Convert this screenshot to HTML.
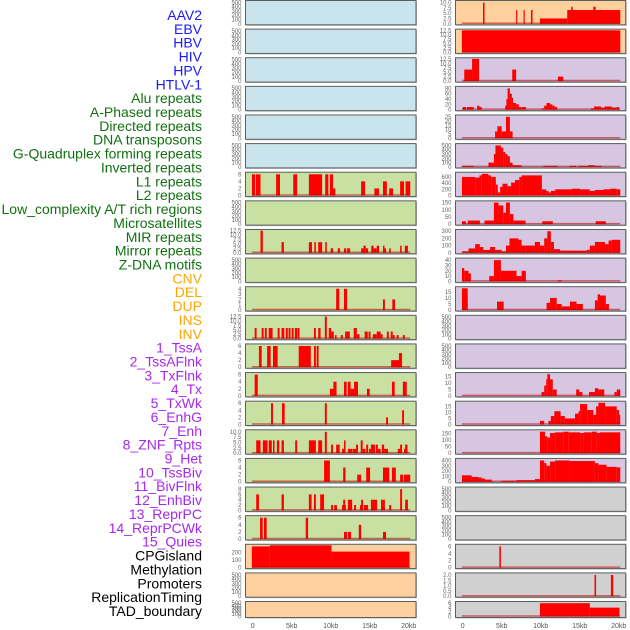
<!DOCTYPE html>
<html><head><meta charset="utf-8">
<style>
html,body{margin:0;padding:0;background:#fff;width:630px;height:630px;overflow:hidden}
svg{display:block}
text{font-family:"Liberation Sans",sans-serif}
</style></head>
<body>
<svg id="c" width="630" height="630" viewBox="0 0 630 630"></svg>
<script>
// ---- labels ----
const labelNames = ["AAV2","EBV","HBV","HIV","HPV","HTLV-1","Alu repeats","A-Phased repeats","Directed repeats","DNA transposons","G-Quadruplex forming repeats","Inverted repeats","L1 repeats","L2 repeats","Low_complexity A/T rich regions","Microsatellites","MIR repeats","Mirror repeats","Z-DNA motifs","CNV","DEL","DUP","INS","INV","1_TssA","2_TssAFlnk","3_TxFlnk","4_Tx","5_TxWk","6_EnhG","7_Enh","8_ZNF_Rpts","9_Het","10_TssBiv","11_BivFlnk","12_EnhBiv","13_ReprPC","14_ReprPCWk","15_Quies","CPGisland","Methylation","Promoters","ReplicationTiming","TAD_boundary"];
const labelGroups = [6,13,5,15,5];
const groupColors = ["#1a1aff","#127012","#ffa500","#a528ee","#000000"];
const xTicks = [0,5,10,15,20];
const xTickLabels = ["0","5kb","10kb","15kb","20kb"];

// ---- data (kb start, kb end, value) ----
const L6 = [[-0.1,0.3,6],[0.4,1.0,6],[3.0,3.5,6],[5.2,5.7,6],[7.2,8.9,6],[9.3,9.7,6],[9.9,10.3,6],[10.3,10.6,2],[13.9,14.4,4],[15.6,16.2,2],[16.7,17.2,4],[17.5,18.0,2],[18.9,19.4,4],[19.6,20.2,4]];
const L8 = [[1.0,1.3,12.5],[3.7,4.0,6],[7.2,7.6,6],[7.9,8.1,6],[8.4,8.9,6],[9.3,9.5,6],[10.0,10.3,2.5],[10.9,11.2,2.5],[11.7,12.0,2.5],[12.1,12.5,2.5],[13.9,14.2,2.5],[14.2,14.5,4],[14.5,14.8,2.5],[15.2,15.5,4],[15.5,15.9,2.5],[15.9,16.2,4],[16.7,16.9,4],[16.9,17.1,2.5],[17.5,17.7,2.5],[18.9,19.1,4],[19.5,19.9,4]];
const L10 = [[10.7,11.1,4],[11.7,12.1,4],[16.7,16.95,2],[17.9,18.25,2]];
const L11 = [[0.25,0.5,6],[1.15,1.4,6],[1.55,1.8,6],[2.05,2.55,6],[3.2,3.45,6],[3.7,4.05,6],[4.25,4.5,6],[4.6,4.85,6],[5.0,5.25,6],[5.4,5.7,6],[5.75,6.0,6],[7.85,8.1,6],[8.4,8.7,6],[9.25,9.5,12.5],[9.75,10.05,6],[10.05,10.4,4],[10.55,10.75,2],[11.3,11.55,2],[11.85,12.45,4],[12.95,13.35,6],[13.35,13.7,2.5],[14.35,14.75,4],[14.85,15.1,4],[15.4,15.9,2.5],[15.9,16.4,4],[16.4,16.65,2.5],[17.2,17.45,4],[17.7,17.95,4],[17.95,18.2,2],[18.45,18.7,2],[19.25,19.5,2]];
const L12 = [[0.8,1.15,6],[1.85,2.3,6],[2.6,3.2,6],[5.9,7.45,6],[7.85,8.1,6],[8.2,8.45,6],[17.75,18.9,2],[18.75,19.15,4]];
const L13 = [[0.25,0.65,6],[9.9,10.35,2],[10.35,10.75,4],[11.7,12.05,4],[12.2,12.55,4],[12.55,13.0,2],[13.0,13.5,4],[14.65,15.0,2],[17.85,18.2,4],[19.25,19.75,4]];
const L14 = [[2.35,2.6,6],[3.75,4.1,6],[9.25,9.5,6],[17.1,17.35,2],[19.15,19.4,4]];
const L15 = [[9.25,9.5,10],[0.45,1.0,6],[1.3,1.9,6],[2.05,2.45,6],[2.6,2.8,6],[3.1,3.4,6],[3.7,4.0,6],[5.45,5.7,6],[7.2,8.1,6],[8.4,8.9,6],[10.05,10.3,4],[10.7,11.15,4],[11.45,11.7,2],[11.7,11.9,6],[12.2,12.75,2],[12.8,13.25,2],[13.25,13.5,4],[13.85,14.1,6],[14.1,14.45,2],[14.55,14.8,4],[14.9,15.15,2],[15.15,15.7,4],[15.8,16.05,4],[16.05,16.4,2],[16.55,16.85,4],[16.85,17.35,2],[18.6,18.9,2],[18.9,19.15,4],[19.4,19.65,2],[19.55,19.85,4]];
const L16 = [[9.15,9.9,6],[11.6,11.9,4],[13.4,13.9,2],[14.55,15.05,4],[16.7,17.5,4],[17.85,18.35,4],[18.9,19.3,2],[19.4,20.2,2]];
const L17 = [[0.45,0.8,6],[3.7,4.0,6],[7.2,7.55,6],[7.85,8.1,6],[8.65,9.15,6],[10.05,10.3,2],[10.45,10.8,2],[11.45,11.95,2],[11.6,11.85,4],[12.2,12.75,4],[13.0,13.25,2],[13.75,14.15,2],[13.9,14.15,4],[14.25,14.8,2],[15.15,15.95,4],[16.45,16.95,4],[17.5,17.75,2],[18.9,19.15,8],[19.55,19.9,4]];
const L18 = [[0.94,1.28,6],[1.45,1.79,6],[6.8,7.1,6],[11.7,12.1,2],[12.2,12.6,2],[13.6,13.9,4],[16.7,17.1,2]];
const L19 = [[-0.1,2.2,285],[2.2,10.1,300],[10.1,20.1,215]];

const R0 = [[2.6,2.8,10],[6.85,7.0,6.5],[7.8,7.95,6.5],[8.75,8.95,6.5],[9.9,13.4,2.5],[13.4,20.2,6.5],[13.9,14.1,8],[16.75,17.05,8]];
const R1 = [[-0.1,20.2,12.5]];
const R2 = [[0.2,1.2,6.5],[1.2,2.1,12.5],[6.35,6.85,6.5],[12.2,12.9,2.5]];
const R3 = [[0,0.45,10],[0.55,1.4,10],[1.85,2.15,15],[2.15,2.45,10],[5.45,5.65,15],[5.6,5.75,40],[5.75,6.05,80],[6.05,6.3,60],[6.3,6.45,45],[6.45,6.85,25],[6.85,7.2,20],[7.2,7.5,10],[7.55,8.1,10],[10.15,10.45,5],[10.45,10.75,15],[10.75,11.2,25],[11.2,11.5,20],[11.5,11.8,15],[11.8,12.1,10],[16.45,16.85,5],[16.85,17.75,12],[17.75,18.2,8],[18.2,18.45,12],[18.45,19.1,12],[19.1,19.75,8],[19.75,20.05,10]];
const R4 = [[4.15,4.45,8],[4.45,5.0,14],[5.0,5.55,8],[5.55,6.05,25],[6.05,6.4,8]];
const R5 = [[-0.1,1.4,25],[3.3,4.0,100],[4.0,4.2,300],[4.2,4.9,500],[4.9,5.2,450],[5.2,5.45,350],[5.45,5.75,300],[5.75,6.05,250],[6.05,6.4,100],[6.4,7.55,40],[10.35,12.2,25],[13.65,14.55,25],[14.8,16.1,25],[16.1,16.95,40],[16.95,17.8,25]];
const R6 = [[-0.1,1.6,600],[1.6,2.15,580],[2.15,2.45,650],[2.45,3.3,700],[3.3,3.65,650],[3.65,4.25,600],[4.25,4.5,350],[4.5,4.8,100],[4.8,5.1,280],[5.1,5.75,380],[5.75,6.2,300],[6.2,6.7,420],[6.7,7.25,500],[7.25,7.55,600],[7.55,10.15,650],[10.15,10.7,200],[10.7,11.0,150],[11.0,11.3,100],[11.3,11.85,150],[11.85,14.0,200],[14.0,15.05,220],[15.05,16.3,200],[16.3,16.95,150],[16.95,18.05,180],[18.05,18.9,200],[18.9,19.75,220],[19.75,20.2,200]];
const R7 = [[-0.1,0.4,20],[0.65,2.2,25],[2.8,4.0,25],[4.0,4.6,150],[4.6,5.2,130],[5.2,5.55,80],[5.55,6.05,150],[6.05,6.5,70],[6.5,8.05,25],[10.2,11.55,20],[17.05,18.35,20]];
const R8 = [[-0.1,0.75,20],[0.75,1.6,60],[1.6,2.2,120],[2.2,2.65,80],[2.65,3.5,40],[3.5,4.15,80],[4.15,5.0,40],[5.0,5.55,20],[5.55,6.0,100],[6.0,7.15,200],[7.15,7.55,180],[7.55,8.1,100],[8.1,9.25,100],[9.25,9.9,150],[9.9,10.45,100],[10.45,10.85,200],[10.85,11.3,300],[11.3,11.7,150],[11.7,12.5,50],[12.5,15.9,30],[15.9,16.3,40],[16.3,16.95,100],[16.95,18.25,150],[18.25,18.7,120],[18.7,19.1,170],[19.1,20.2,180]];
const R9 = [[-0.1,0.2,25],[0.2,0.75,20],[0.75,1.05,15],[3.4,4.0,10],[4.0,4.9,40],[4.9,6.9,20],[6.9,7.55,10],[7.55,8.1,20],[12.2,12.7,2]];
const R10 = [[-0.1,0.65,18],[4.4,5.25,7],[10.75,11.2,6],[11.2,12.05,10],[12.05,12.7,5],[12.7,13.75,3],[13.75,14.6,7],[14.6,15.4,5],[16.95,17.3,8],[17.3,17.6,13],[17.6,18.35,12],[18.35,18.75,5]];
const R13 = [[10.1,10.45,3],[10.45,10.7,8],[10.7,10.85,13],[10.85,11.2,17],[11.2,11.55,13],[11.55,12.05,5],[14.55,14.95,5],[14.95,15.35,3],[16.2,16.95,3],[16.95,17.4,6],[17.4,18.15,5],[19.45,19.75,3],[19.75,20.2,5]];
const R14 = [[9.9,10.45,3],[11.0,11.3,3],[11.3,11.75,7],[11.75,12.55,11],[12.55,13.1,7],[13.1,14.4,5],[14.4,14.85,9],[14.85,15.05,11],[15.05,15.95,17],[15.95,16.75,12],[16.75,17.1,8],[17.1,17.4,15],[17.4,18.25,18],[18.25,19.75,15],[19.75,20.05,12],[20.05,20.2,8]];
const R15 = [[9.9,10.55,165],[10.55,10.85,130],[10.85,11.2,120],[11.2,11.85,155],[11.85,12.9,160],[12.9,13.6,165],[13.6,15.05,160],[15.05,15.5,155],[15.5,16.55,160],[16.55,17.2,165],[17.2,17.6,155],[17.6,20.2,160]];
const R16 = [[-0.1,1.15,120],[1.15,2.0,90],[2.0,2.45,80],[2.45,2.85,60],[2.85,3.7,40],[3.7,3.9,10],[4.95,6.9,20],[6.9,9.25,30],[9.25,9.9,50],[9.9,10.45,400],[10.45,10.75,350],[10.75,11.2,300],[11.2,11.85,380],[11.85,13.75,400],[13.75,16.95,390],[16.95,17.4,350],[17.4,18.45,320],[18.45,19.75,280],[19.75,20.2,270]];
const R19 = [[4.7,4.9,6]];
const R20 = [[16.9,17.1,2],[19.0,19.3,2]];
const R21 = [[9.9,16.3,6],[16.3,20.1,4]];

// tick label sets
const T500 = ["0","100","200","300","400","500"];
const T6 = ["0","2","4","6"];
const T125 = ["0.0","2.5","5.0","7.5","10.0","12.5"];

// panel specs: [col,row,bg,data,ymax,tickValues,tickLabels]
const BL="#c9e4ec",GR="#c8e1a2",LV="#d7c6e2",PE="#fdd09d",GY="#d0d0d0";
const panels = [
 [0,0,BL,null],[0,1,BL,null],[0,2,BL,null],[0,3,BL,null],[0,4,BL,null],[0,5,BL,null],
 [0,6,GR,L6,6.3,[0,2,4,6],T6],[0,7,GR,null],[0,8,GR,L8,12.6,[0,2.5,5,7.5,10,12.5],T125],[0,9,GR,null],
 [0,10,GR,L10,4.2,[0,1,2,3,4],["0","1","2","3","4"]],[0,11,GR,L11,12.6,[0,2.5,5,7.5,10,12.5],T125],
 [0,12,GR,L12,6.3,[0,2,4,6],T6],[0,13,GR,L13,6.3,[0,2,4,6],T6],[0,14,GR,L14,6.3,[0,2,4,6],T6],
 [0,15,GR,L15,10.5,[0,2.5,5,7.5,10],["0.0","2.5","5.0","7.5","10.0"]],[0,16,GR,L16,6.3,[0,2,4,6],T6],
 [0,17,GR,L17,8.4,[0,2,4,6,8],["0","2","4","6","8"]],[0,18,GR,L18,6.3,[0,2,4,6],T6],
 [0,19,PE,L19,300,[0,100,200],["0","100","200"]],[0,20,PE,null],[0,21,PE,null],
 [1,0,PE,R0,10.5,[0,2.5,5,7.5,10],["0.0","2.5","5.0","7.5","10.0"]],[1,1,PE,R1,12.6,[0,2.5,5,7.5,10,12.5],T125],
 [1,2,LV,R2,12.6,[0,2.5,5,7.5,10,12.5],T125],[1,3,LV,R3,84,[0,20,40,60,80],["0","20","40","60","80"]],
 [1,4,LV,R4,26,[0,5,10,15,20,25],["0","5","10","15","20","25"]],[1,5,LV,R5,520,[0,100,200,300,400,500],T500],
 [1,6,LV,R6,720,[0,200,400,600],["0","200","400","600"]],[1,7,LV,R7,155,[0,50,100,150],["0","50","100","150"]],
 [1,8,LV,R8,310,[0,100,200,300],["0","100","200","300"]],[1,9,LV,R9,42,[0,10,20,30,40],["0","10","20","30","40"]],
 [1,10,LV,R10,18.5,[0,5,10,15],["0","5","10","15"]],[1,11,LV,null],[1,12,LV,null],
 [1,13,LV,R13,17.5,[0,5,10,15],["0","5","10","15"]],[1,14,LV,R14,18.5,[0,5,10,15],["0","5","10","15"]],
 [1,15,LV,R15,172,[0,50,100,150],["0","50","100","150"]],[1,16,LV,R16,420,[0,100,200,300,400],["0","100","200","300","400"]],
 [1,17,GY,null],[1,18,GY,null],[1,19,GY,R19,6.3,[0,2,4,6],T6],
 [1,20,GY,R20,2.1,[0,0.5,1,1.5,2],["0.0","0.5","1.0","1.5","2.0"]],[1,21,GY,R21,6.3,[0,2,4,6],T6]
];

const svg=document.getElementById('c');
const NS="http://www.w3.org/2000/svg";
function mk(tag,attrs,parent){const e=document.createElementNS(NS,tag);for(const k in attrs)e.setAttribute(k,attrs[k]);(parent||svg).appendChild(e);return e;}

// labels
let gi=0,cnt=0;
labelNames.forEach((n,i)=>{
  while(cnt>=labelGroups[gi]){cnt=0;gi++;}
  cnt++;
  const t=mk('text',{x:202,y:15+i*13.86+5,'text-anchor':'end','font-size':'14',fill:groupColors[gi]});
  t.textContent=n;
  
  
});

// geometry
const colX=[[245.5,416],[455.5,625.7]];
const colX0=[252.7,462.7], pxPerKb=7.8;
function xs(col,kb){return colX0[col]+kb*pxPerKb;}
function rowTop(r){return 0.5+r*28.62;}
function rowH(r){return r===21?16:24.3;}

panels.forEach(p=>{
  const [col,row,bg,data,ymax,tv,tl]=p;
  const x0=colX[col][0],x1=colX[col][1],top=rowTop(row),h=rowH(row);
  const g=mk('g',{});
  
  
  mk('rect',{x:x0+1,y:top+1,width:x1-x0,height:h,fill:'#bbb'},g);
  mk('rect',{x:x0,y:top,width:x1-x0,height:h,fill:bg,stroke:'#5a5f62','stroke-width':1},g);
  const bot=top+h-1, ys=v=>bot-(v/(data?ymax:520))*(h-2);
  const vals=tv||[0,100,200,300,400,500], labs=tl||T500;
  vals.forEach((v,i)=>{
    const t=mk('text',{x:x0-4,y:ys(v)+2,'text-anchor':'end','font-size':'6',fill:'#666'},g);
    t.textContent=labs[i];
    
    
  });
  if(data){
    data.forEach(d=>{
      const r=mk('rect',{x:xs(col,d[0]),y:ys(d[2]),width:Math.max(1,(d[1]-d[0])*pxPerKb),height:bot-ys(d[2]),fill:'#ff0000'},g);
      
      
    });
    const bl=mk('line',{x1:xs(col,-0.1),x2:xs(col,20.2),y1:bot-0.5,y2:bot-0.5,stroke:'rgba(190,0,0,0.55)','stroke-width':1.5},g);
    
    
  }
});

// x axes
[0,1].forEach(col=>{
  xTicks.forEach((v,i)=>{
    const t=mk('text',{x:xs(col,v),y:628,'text-anchor':'middle','font-size':'7',fill:'#555'});
    t.textContent=xTickLabels[i];
    
    
  });
});
</script>
</body></html>
